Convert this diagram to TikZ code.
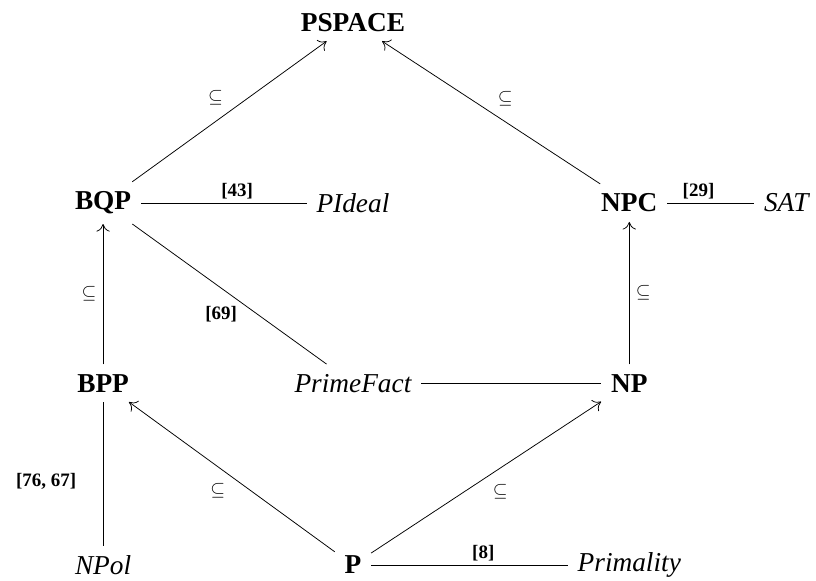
\documentclass[tikz,border=0pt]{standalone}
\usepackage{fontspec}
\setmainfont{Liberation Serif}
\usepackage{amssymb,amsmath}
\usetikzlibrary{positioning}
\usetikzlibrary{arrows.meta}
\tikzset{cls/.style = {font=\Large\bfseries, inner sep = 5pt}}
\tikzset{prob/.style = {font=\Large\itshape, inner sep = 5pt}}
\tikzset{lbl/.style = {font=\bfseries, inner sep = 2pt}}
\tikzset{incl/.style = {-{To[length=4pt, width=7pt]}}}

\begin{document}
\begin{tikzpicture}
      \useasboundingbox (0, 0) rectangle (15.12, 10.75);
      \node [cls] (pspace) at (6.54, 10.34) {PSPACE};
      \node [cls] (bqp) at (1.91, 6.99) {BQP};
      \node [prob] (pideal) at (6.54, 6.99) {PIdeal};
      \node [cls] (npc) at (11.66, 6.99) {NPC};
      \node [prob] (sat) at (14.57, 6.99) {SAT};
      \node [cls] (bpp) at (1.91, 3.65) {BPP};
      \node [prob] (primefact) at (6.54, 3.65) {PrimeFact};
      \node [cls] (np) at (11.66, 3.65) {NP};
      \node [prob] (npol) at (1.91, 0.28) {NPol};
      \node [cls] (p) at (6.54, 0.28) {P};
      \node [prob] (primality) at (11.66, 0.28) {Primality};
      \draw [incl] (bqp) -- node [above left] {$\subseteq$} (pspace);
      \draw [incl] (npc) -- node [above right] {$\subseteq$} (pspace);
      \draw [incl] (bpp) -- node [left] {$\subseteq$} (bqp);
      \draw [incl] (np) -- node [right] {$\subseteq$} (npc);
      \draw [incl] (p) -- node [below left] {$\subseteq$} (bpp);
      \draw [incl] (p) -- node [below right] {$\subseteq$} (np);
      \draw (bqp) -- node [lbl, above, pos=0.58] {[43]} (pideal);
      \draw (npc) -- node [lbl, above, pos=0.36] {[29]} (sat);
      \draw (bqp) -- node [lbl, below left, pos=0.56] {[69]} (primefact);
      \draw (primefact) -- (np);
      \draw (bpp) -- node [lbl, left=12pt, pos=0.55] {[76, 67]} (npol);
      \draw (p) -- node [lbl, above, pos=0.57] {[8]} (primality);
    \end{tikzpicture}
\end{document}
